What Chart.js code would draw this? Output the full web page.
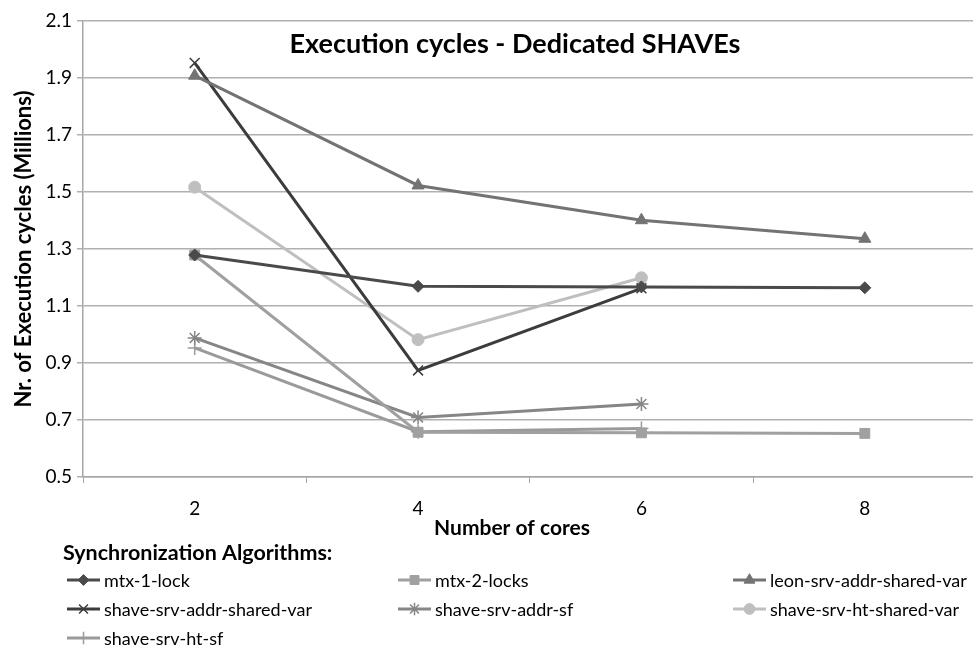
<!DOCTYPE html>
<html><head><meta charset="utf-8">
<script src="https://cdn.jsdelivr.net/npm/chart.js@4/dist/chart.umd.min.js"></script>
<style>html,body{margin:0;padding:0;background:#fff;overflow:hidden}#wrap{width:985px;height:647px;position:relative}</style>
</head><body><div id="wrap"><canvas id="c"></canvas></div>
<script>
const categories = ["2","4","6","8"];
const mtx1Lock = [1.279, 1.169, 1.167, 1.164];
const mtx2Locks = [1.279, 0.657, 0.655, 0.653];
const leonSrvAddrSharedVar = [1.908, 1.523, 1.401, 1.336];
const shaveSrvAddrSharedVar = [1.953, 0.874, 1.162, null];
const shaveSrvAddrSf = [0.988, 0.709, 0.756, null];
const shaveSrvHtSharedVar = [1.517, 0.982, 1.199, null];
const shaveSrvHtSf = [0.953, 0.659, 0.670, null];
const seriesNames = ["mtx-1-lock","mtx-2-locks","leon-srv-addr-shared-var","shave-srv-addr-shared-var","shave-srv-addr-sf","shave-srv-ht-shared-var","shave-srv-ht-sf"];
const yTicks = [0.5,0.7,0.9,1.1,1.3,1.5,1.7,1.9,2.1];

const FONT = "Lato, 'Open Sans', sans-serif";
const styles = [
  {c:'#4a4a4a', p:'rectRot', r:6},
  {c:'#a0a0a0', p:'rect', r:7},
  {c:'#737373', p:'triangle', r:7},
  {c:'#3c3c3c', p:'crossRot', r:7},
  {c:'#868686', p:'star', r:7},
  {c:'#bfbfbf', p:'circle', r:6},
  {c:'#9a9a9a', p:'cross', r:7}
];
const values = [mtx1Lock, mtx2Locks, leonSrvAddrSharedVar, shaveSrvAddrSharedVar, shaveSrvAddrSf, shaveSrvHtSharedVar, shaveSrvHtSf];
const datasets = values.map((v,i)=>({
  label: seriesNames[i], data: v,
  borderColor: styles[i].c, backgroundColor: styles[i].c,
  borderWidth: 3, pointStyle: styles[i].p, pointRadius: styles[i].r,
  pointBorderWidth: (styles[i].p==='crossRot'||styles[i].p==='star'||styles[i].p==='cross')?1.5:1,
  pointBorderColor: styles[i].c, pointBackgroundColor: styles[i].c,
  tension: 0, spanGaps: false
}));

const textPlugin = {
  id: 'texts',
  afterDraw(chart){
    const ctx = chart.ctx;
    ctx.save();
    ctx.fillStyle = '#000';
    ctx.textBaseline = 'middle';
    ctx.textAlign = 'center';
    ctx.font = "bold 27px " + FONT;
    ctx.fillText("Execution cycles - Dedicated SHAVEs", 515, 44);
    ctx.font = "bold 21px " + FONT;
    ctx.fillText("Number of cores", 512, 528);
    ctx.textAlign = 'left';
    ctx.font = "bold 21.5px " + FONT;
    ctx.fillText("Synchronization Algorithms:", 63, 553);
    ctx.font = "18px " + FONT;
    const cols = [67, 398, 733];
    const rows = [580, 609, 638];
    seriesNames.forEach((n,i)=>{
      const x = cols[i%3], y = rows[Math.floor(i/3)];
      const s = styles[i];
      ctx.strokeStyle = s.c; ctx.lineWidth = 3;
      ctx.beginPath(); ctx.moveTo(x, y); ctx.lineTo(x+33, y); ctx.stroke();
      ctx.fillStyle = s.c;
      ctx.lineWidth = (s.p==='crossRot'||s.p==='star'||s.p==='cross')?1.5:1;
      Chart.helpers.drawPoint(ctx, {pointStyle: s.p, radius: s.r*0.9, rotation: 0, borderWidth: ctx.lineWidth}, x+16.5, y);
      ctx.fillStyle = '#000';
      ctx.fillText(n, x+37, y+1);
    });
    ctx.restore();
  }
};

new Chart(document.getElementById('c'), {
  type: 'line',
  data: { labels: categories, datasets },
  options: {
    responsive: true, maintainAspectRatio: false, animation: false,
    layout: { padding: { top: 21, right: 0, bottom: 107, left: 0 } },
    plugins: { legend: { display: false }, tooltip: { enabled: false } },
    scales: {
      x: {
        type: 'category', offset: true,
        grid: { offset: true, drawOnChartArea: false, drawTicks: true, tickLength: 6, color: '#a6a6a6' },
        border: { color: '#a6a6a6', width: 1.5 },
        ticks: { color: '#000', font: { family: FONT, size: 19 }, padding: 14, maxRotation: 0 },
        afterFit(s){ s.height = 63; }
      },
      y: {
        min: 0.5, max: 2.1,
        afterBuildTicks(s){ s.ticks = yTicks.map(v=>({value:v})); },
        grid: { color: '#b0b0b0', lineWidth: 1.5, tickLength: 6 },
        border: { color: '#a6a6a6', width: 1.5 },
        ticks: { color: '#000', font: { family: FONT, size: 19 }, padding: 5, callback: v => v.toFixed(1) },
        title: { display: true, text: 'Nr. of Execution cycles (Millions)', color: '#000', font: { family: FONT, size: 22, weight: 'bold' }, padding: { top: 11, bottom: 0 } },
        afterFit(s){ s.width = 83; }
      }
    }
  },
  plugins: [textPlugin]
});
</script></body></html>
